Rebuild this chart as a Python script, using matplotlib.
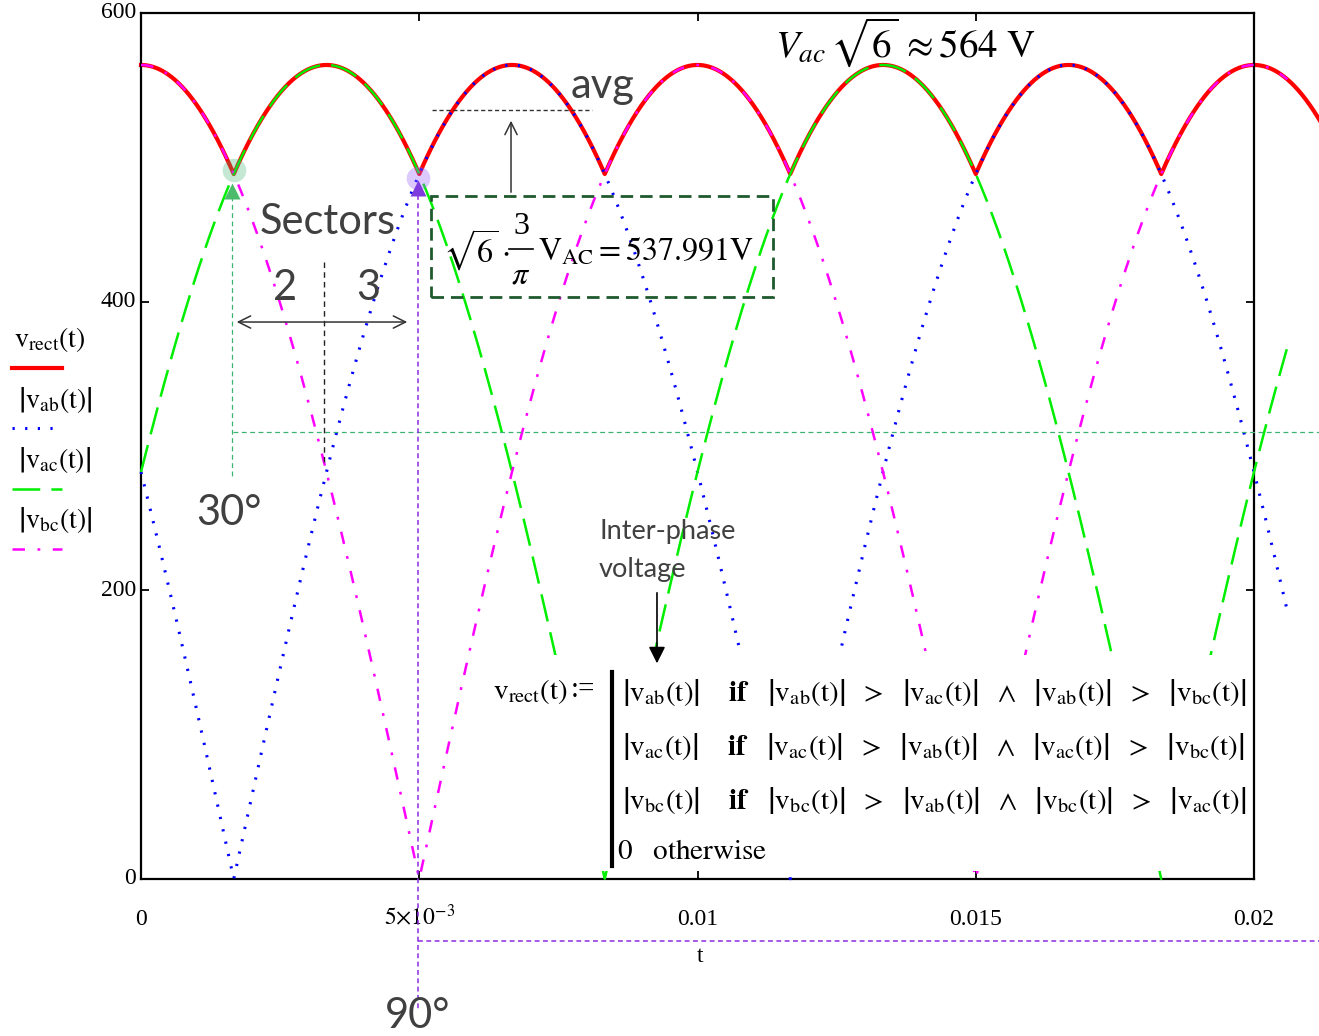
import matplotlib
matplotlib.use("Agg")
import matplotlib.pyplot as plt
import numpy as np
from matplotlib.lines import Line2D
from matplotlib.patches import Rectangle, FancyArrowPatch

# ---------------- data ----------------
PEAK_V = 564.0                  # V_ac*sqrt(6) ~ 564 V
FREQ_HZ = 50.0                  # one full period = 0.02 s
phase_names = ["ab", "ac", "bc"]
phase_deg = [150.0, 30.0, 90.0]  # |vab|, |vac|, |vbc| phase offsets
AVG_V = 537.991
t_trace_end = 0.0206            # end of the three phase traces
t_rect_end = 0.0215             # rectified trace runs off the image
x_ticks = [0, 0.005, 0.01, 0.015, 0.02]
x_tick_labels = ["0", r"$5{\times}10^{-3}$", "0.01", "0.015", "0.02"]
y_ticks = [0, 200, 400, 600]
y_tick_labels = ["0", "200", "400", "600"]

plt.rcParams["mathtext.fontset"] = "stix"
plt.rcParams["font.family"] = ["Liberation Serif", "DejaVu Serif"]
plt.rcParams["lines.scale_dashes"] = False

W, H = 1319, 1036
fig = plt.figure(figsize=(W / 100, H / 100), dpi=100)
L, R, T, B = 141, 1254, 13, 879
ax = fig.add_axes([L / W, 1 - B / H, (R - L) / W, (B - T) / H])
ax.set_xlim(0, 0.02)
ax.set_ylim(0, 600)


def phase_mag(ph, t):
    return np.abs(PEAK_V * np.sin(2 * np.pi * FREQ_HZ * t + np.deg2rad(ph)))


t = np.linspace(0, t_trace_end, 4000)
tr = np.linspace(0, t_rect_end, 4000)
vab, vac, vbc = [phase_mag(p, t) for p in phase_deg]
vrect = np.max([phase_mag(p, tr) for p in phase_deg], axis=0)

RED, BLUE, GREEN, MAG = "#ff0000", "#0000ff", "#00ee00", "#ff00ff"
ls_blue = (0, (1.6, 7.5))
ls_green = (0, (20, 8))
ls_mag = (0, (9, 9, 2, 9))

ax.plot(tr, vrect, color=RED, lw=3.0, zorder=2, clip_on=False)
ax.plot(t, vab, color=BLUE, lw=2.2, ls=ls_blue, zorder=3, clip_on=False)
ax.plot(t, vac, color=GREEN, lw=1.8, ls=ls_green, zorder=3, clip_on=False)
ax.plot(t, vbc, color=MAG, lw=1.8, ls=ls_mag, zorder=3, clip_on=False)

# axes styling
for s in ax.spines.values():
    s.set_linewidth(1.6)
ax.set_xticks(x_ticks)
ax.set_yticks(y_ticks)
ax.set_xticklabels([])
ax.set_yticklabels([])
ax.tick_params(direction="in", length=6, width=1.3, top=True, right=True)
for xv, lab in zip(x_ticks, x_tick_labels):
    ax.text(xv, -0.0531, lab, transform=ax.get_xaxis_transform(), ha="center",
            va="baseline", fontsize=17)
for yv, lab in zip(y_ticks, y_tick_labels):
    ax.text(-0.0045, yv, lab, transform=ax.get_yaxis_transform(), ha="right",
            va="center", fontsize=17)


def P(px, py):
    return px / W, 1 - py / H


fig.text(*P(700, 957), "t", ha="center", va="center", fontsize=17)


# ---------------- legend (left) ----------------
def V(s):
    return r"\left|\mathrm{v}_{\mathrm{%s}}(\mathrm{t})\right|" % s


fig.text(*P(14, 340), r"$\mathrm{v}_{\mathrm{rect}}(\mathrm{t})$", ha="left",
         va="center", fontsize=20)
for i, nm in enumerate(phase_names):
    fig.text(*P(18, 400 + 60 * i), "$" + V(nm) + "$", ha="left", va="center",
             fontsize=20)
leg_styles = [(RED, "-", 3.0, 368), (BLUE, ls_blue, 2.2, 428),
              (GREEN, ls_green, 1.8, 489), (MAG, ls_mag, 1.8, 549)]
for col, ls, lw, py in leg_styles:
    x0, y0 = P(12, py)
    x1, _ = P(62, py)
    fig.add_artist(Line2D([x0, x1], [y0, y0], color=col, ls=ls, lw=lw))

# ---------------- annotations ----------------
GRAY = "#404040"
SANS = ["Lato", "DejaVu Sans"]
# highlighted commutation points
ax.plot([0.001667], [491], "o", ms=17, color="#3cb371", alpha=0.3, mec="none",
        zorder=4, clip_on=False)
ax.plot([0.00498], [486], "o", ms=17, color="#9966ff", alpha=0.35, mec="none",
        zorder=4, clip_on=False)
ax.plot([0.00163], [477], "^", ms=12, color="#4cbb6c", mec="none", zorder=5,
        clip_on=False)
ax.plot([0.004977], [479], "^", ms=12, color="#7d3cdb", mec="none", zorder=5,
        clip_on=False)
# guide lines
gdash = (0, (3.5, 2.5))
ax.plot([0.00163, 0.00163], [473, 279], color="#3cb371", lw=0.9, ls=gdash,
        zorder=4, clip_on=False)
ax.plot([0.00165, 0.0212], [309.7, 309.7], color="#3cb371", lw=0.9, ls=gdash,
        zorder=4, clip_on=False)
ax.plot([0.004977, 0.004977], [474, -91], color="#8a2be2", lw=1.1, ls=gdash,
        zorder=4, clip_on=False)
ax.plot([0.004977, 0.0212], [-43, -43], color="#8a2be2", lw=1.1, ls=gdash,
        zorder=4, clip_on=False)
ax.plot([0.003288, 0.003288], [427.5, 286.8], color="#222222", lw=1.0,
        ls=(0, (4, 3)), zorder=4, clip_on=False)
ax.add_patch(FancyArrowPatch((0.00167, 385.9), (0.004834, 385.9),
                             arrowstyle="<->", mutation_scale=22, lw=1.1,
                             color="#333333", zorder=5, clip_on=False))
# average line and arrow
ax.plot([0.00523, 0.0081], [532.8, 532.8], color="#333333", lw=1.0,
        ls=(0, (3, 2)), zorder=4, clip_on=False)
ax.add_patch(FancyArrowPatch((0.006649, 473.9), (0.006649, 527.3),
                             arrowstyle="->", mutation_scale=22, lw=1.1,
                             color="#333333", zorder=5))
# dashed box with the average formula
ax.add_patch(Rectangle((0.005211, 403.2), 0.011357 - 0.005211, 473.2 - 403.2,
                       fill=False, ec="#1f5a2e", lw=2.0, ls=(0, (9, 5)),
                       zorder=5))
fig.text(*P(443, 250), r"$\sqrt{6}\cdot$", ha="left", va="center",
         fontsize=23)
fig.text(*P(521, 226), "3", ha="center", va="center", fontsize=23)
fig.text(*P(521, 276), r"$\pi$", ha="center", va="center", fontsize=23)
fx0, fy = P(509, 249)
fx1, _ = P(533, 249)
fig.add_artist(Line2D([fx0, fx1], [fy, fy], color="black", lw=1.2))
fig.text(*P(538, 252),
         r"$\mathrm{V}_{\mathrm{AC}} = 537.991\mathrm{V}$",
         ha="left", va="center", fontsize=23)
fig.text(*P(905, 42), r"$V_{ac}\,\sqrt{6}\,\approx 564\ \mathrm{V}$",
         ha="center", va="center", fontsize=28)

fig.text(*P(328, 222), "Sectors", ha="center", va="center", fontsize=30,
         color=GRAY, family=SANS)
fig.text(*P(285, 288), "2", ha="center", va="center", fontsize=30, color=GRAY,
         family=SANS)
fig.text(*P(368, 288), "3", ha="center", va="center", fontsize=30, color=GRAY,
         family=SANS)
fig.text(*P(229, 513), "30°", ha="center", va="center", fontsize=30,
         color=GRAY, family=SANS)
fig.text(*P(418, 1016), "90°", ha="center", va="center", fontsize=30,
         color=GRAY, family=SANS)
fig.text(*P(603, 86), "avg", ha="center", va="center", fontsize=30, color=GRAY,
         family=SANS)
fig.text(*P(599, 532), "Inter-phase", ha="left", va="center", fontsize=19.5,
         color=GRAY, family=SANS)
fig.text(*P(599, 570), "voltage", ha="left", va="center", fontsize=19.5,
         color=GRAY, family=SANS)

# ---------------- piecewise definition (pasted over the plot) ----------------
ax.add_patch(Rectangle((0.006181, 5.5), 0.019838 - 0.006181, 155.2 - 5.5,
                       fc="white", ec="none", zorder=6))
ax.add_patch(FancyArrowPatch((0.009272, 200.2), (0.009272, 147.5),
                             arrowstyle="-|>", mutation_scale=25, lw=1.2,
                             color="black", zorder=7))
fig.text(*P(493, 692), r"$\mathrm{v}_{\mathrm{rect}}(\mathrm{t})$",
         ha="left", va="center", fontsize=21, zorder=8)
fig.text(*P(571, 690), ":=", ha="left", va="center", fontsize=21, zorder=8)
bx0, by0 = P(612, 672)
_, by1 = P(612, 866)
fig.add_artist(Line2D([bx0, bx0], [by0, by1], color="black", lw=3))
rows = [("ab", "ac", "bc"), ("ac", "ab", "bc"), ("bc", "ab", "ac")]
for i, (a, b, c) in enumerate(rows):
    s = ("$" + V(a) + r"\ \ \ \ \mathbf{if}\ \ \ " + V(a) + r"\ \ >\ \ " + V(b)
         + r"\ \ \wedge\ \ " + V(a) + r"\ \ >\ \ " + V(c) + "$")
    fig.text(*P(622, 692 + 54.5 * i), s, ha="left", va="center", fontsize=21)
fig.text(*P(617, 852), r"$0\ \ \ \mathrm{otherwise}$", ha="left", va="center",
         fontsize=21)

fig.savefig("out.png", dpi=100)
